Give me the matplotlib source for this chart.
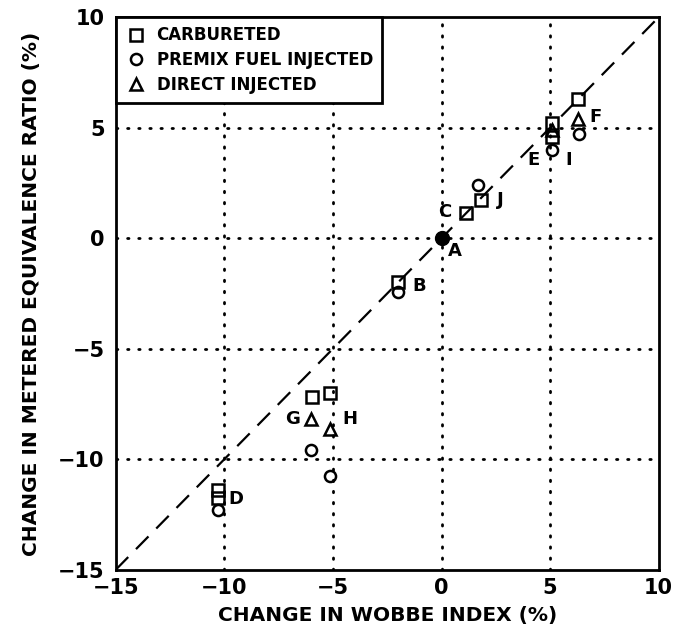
import numpy as np
import matplotlib.pyplot as plt

plt.rcParams['font.family'] = ['DejaVu Sans']
plt.rcParams['font.weight'] = 'bold'

# change in Wobbe index (%) vs change in metered equivalence ratio (%)
carb_x = [-2.0, 1.15, 1.8, 5.1, 5.1, 6.3, -5.95, -5.15, -10.3, -10.3]
carb_y = [-2.0, 1.15, 1.75, 5.2, 4.6, 6.3, -7.2, -7.0, -11.4, -11.75]

premix_x = [-2.0, 1.7, 5.1, 6.35, -6.0, -5.15, -10.3]
premix_y = [-2.45, 2.4, 4.0, 4.7, -9.6, -10.75, -12.3]

direct_x = [5.1, 6.3, -6.0, -5.15]
direct_y = [4.9, 5.4, -8.2, -8.65]

# baseline fuel (all three engines coincide)
base_x = [0.0]
base_y = [0.0]

point_labels = ['A', 'B', 'C', 'D', 'E', 'F', 'G', 'H', 'I', 'J']
label_x = [0.6, -1.05, 0.15, -9.45, 4.25, 7.1, -6.85, -4.2, 5.85, 2.7]
label_y = [-0.6, -2.15, 1.2, -11.8, 3.55, 5.5, -8.2, -8.2, 3.55, 1.75]

fig = plt.figure(figsize=(6.89, 6.38), dpi=100)
ax = fig.add_axes([0.168, 0.107, 0.788, 0.866])

ax.plot([-15, 10], [-15, 10], color='black', lw=1.6, dashes=(8, 5), zorder=1)

mk = dict(linestyle='none', mfc='none', mec='black', mew=1.8, ms=8, zorder=3)
ax.plot(carb_x, carb_y, marker='s', label='CARBURETED', **mk)
ax.plot(premix_x, premix_y, marker='o', label='PREMIX FUEL INJECTED', **mk)
ax.plot(direct_x, direct_y, marker='^', label='DIRECT INJECTED', **mk)
ax.plot(base_x, base_y, marker='o', linestyle='none', color='black', ms=10, zorder=4)

for t, x, y in zip(point_labels, label_x, label_y):
    ax.text(x, y, t, fontsize=13, fontweight='bold', ha='center', va='center')

ticks = [-15, -10, -5, 0, 5, 10]
ticklabels = ['\u221215', '\u221210', '\u22125', '0', '5', '10']
ax.set_xlim(-15, 10)
ax.set_ylim(-15, 10)
ax.set_xticks(ticks)
ax.set_yticks(ticks)
ax.set_xticklabels(ticklabels)
ax.set_yticklabels(ticklabels)
ax.tick_params(labelsize=15, length=0)
ax.tick_params(axis='x', pad=6)
ax.tick_params(axis='y', pad=8)
for lab in ax.get_xticklabels() + ax.get_yticklabels():
    lab.set_fontweight('bold')

for v in [-10, -5, 0, 5]:
    ax.axvline(v, color='black', lw=2, linestyle=(0, (0.5, 3.5)), dash_capstyle='round', zorder=0)
    ax.axhline(v, color='black', lw=2, linestyle=(0, (0.5, 3.5)), dash_capstyle='round', zorder=0)

for s in ax.spines.values():
    s.set_linewidth(2)

ax.set_xlabel('CHANGE IN WOBBE INDEX (%)', fontsize=14.5, fontweight='bold', labelpad=6)
ax.set_ylabel('CHANGE IN METERED EQUIVALENCE RATIO (%)', fontsize=14.5, fontweight='bold', labelpad=12)

leg = ax.legend(loc='upper left', fontsize=12, frameon=True, fancybox=False,
                edgecolor='black', framealpha=1, borderaxespad=0, handletextpad=0.6,
                borderpad=0.55, labelspacing=0.4, handlelength=1.3)
leg.get_frame().set_linewidth(2)
for t in leg.get_texts():
    t.set_fontweight('bold')

fig.savefig('out.png', dpi=100)
